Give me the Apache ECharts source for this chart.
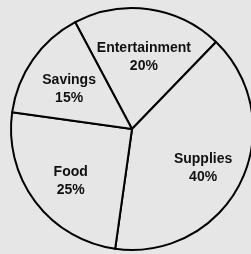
<!DOCTYPE html>
<html>
<head>
<meta charset="utf-8">
<script src="https://cdn.jsdelivr.net/npm/echarts@6/dist/echarts.min.js"></script>
<style>
  html, body { margin: 0; padding: 0; background: #e6e6e6; }
  #chart { width: 251px; height: 254px; }
</style>
</head>
<body>
<div id="chart"></div>
<script>
// budget shares, clockwise from Entertainment
var categories = ['Entertainment', 'Supplies', 'Food', 'Savings'];
var shares = [20, 40, 25, 15];

var pieData = categories.map(function (c, i) {
    return { name: c, value: shares[i] };
});

var chart = echarts.init(document.getElementById('chart'));

chart.setOption({
    backgroundColor: '#e6e6e6',
    animation: false,
    series: [
        {
            // the slices with outlines
            type: 'pie',
            center: [132, 129],
            radius: 121,
            startAngle: 118,
            clockwise: true,
            silent: true,
            label: { show: false },
            labelLine: { show: false },
            itemStyle: {
                color: '#e6e6e6',
                borderColor: '#000',
                borderWidth: 2
            },
            data: pieData
        },
        {
            // transparent ring, only to place the labels
            type: 'pie',
            center: [132, 129],
            radius: [29, 121],
            startAngle: 118,
            clockwise: true,
            silent: true,
            itemStyle: { color: 'rgba(0,0,0,0)', borderWidth: 0 },
            label: {
                show: true,
                position: 'inside',
                offset: [1, 5],
                formatter: '{b}\n{c}%',
                fontFamily: 'Liberation Sans, Arial, sans-serif',
                fontSize: 14,
                fontWeight: 'bold',
                lineHeight: 18,
                color: '#111'
            },
            labelLine: { show: false },
            data: pieData
        }
    ]
});
</script>
</body>
</html>
